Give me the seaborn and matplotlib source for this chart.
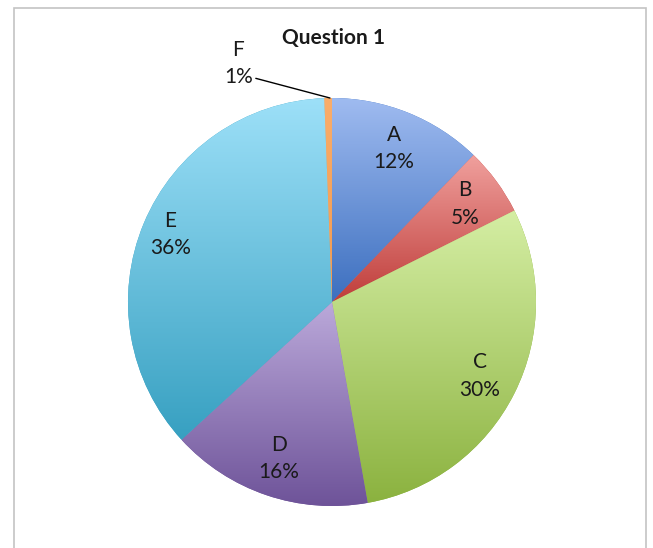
import numpy as np
import matplotlib
matplotlib.use("Agg")
import matplotlib.pyplot as plt
import matplotlib.patches as mpatches
from matplotlib.colors import LinearSegmentedColormap
import seaborn as sns

# data (labels show rounded percentages)
answers = ['A', 'B', 'C', 'D', 'E', 'F']
shares = [12.2, 5.4, 29.6, 16.0, 36.2, 0.6]
# (top colour, bottom colour) of each slice's gradient
top_cols = ['#9fbbf0', '#f0a09d', '#d5eea4', '#bba9da', '#9de0f8', '#f9ad6a']
bot_cols = ['#3c6fbf', '#bf3d3a', '#8bb23f', '#6e5399', '#37a0c1', '#f39a4f']

sns.set_theme(style="white")
plt.rcParams['font.family'] = ['Lato', 'DejaVu Sans']

fig = plt.figure(figsize=(6.53, 5.48), dpi=100)
fig.patch.set_facecolor('white')

# chart frame
fig.patches.append(mpatches.Rectangle((14/653, -0.02), 632/653, 1 - 8/548 + 0.02,
                                      transform=fig.transFigure, fill=False,
                                      edgecolor='#c4c4c4', lw=1.2))

cx, cy, r = 332/653, 1 - 302/548, 204
ax = fig.add_axes([cx - r/653, cy - r/548, 2*r/653, 2*r/548])

wedges, _ = ax.pie(shares, startangle=90, counterclock=False, radius=1,
                   colors=bot_cols, wedgeprops={'linewidth': 0})

for w, t, b in zip(wedges, top_cols, bot_cols):
    ext = w.get_path().get_extents()
    cmap = LinearSegmentedColormap.from_list('g', [b, t])
    grad = np.linspace(0, 1, 256).reshape(-1, 1)
    im = ax.imshow(grad, cmap=cmap, origin='lower', aspect='auto',
                   extent=[ext.x0, ext.x1, ext.y0, ext.y1], zorder=w.get_zorder() + 0.1)
    im.set_clip_path(w)

for w, name, s in zip(wedges, answers, shares):
    txt = f"{name}\n{s:.0f}%"
    if s < 2:
        ax.annotate(txt, xy=(-0.01, 1.0), xytext=(-0.46, 1.17), ha='center', va='center',
                    fontsize=15, color='#1a1a1a', linespacing=1.45,
                    arrowprops=dict(arrowstyle='-', color='black', lw=1,
                                    shrinkA=0, shrinkB=0, relpos=(1.0, 0.2)),
                    annotation_clip=False)
        continue
    ang = np.deg2rad((w.theta1 + w.theta2) / 2)
    d = 0.86 if s > 35 else 0.81
    ax.text(d*np.cos(ang), d*np.sin(ang), txt, ha='center', va='center',
            fontsize=15, color='#1a1a1a', linespacing=1.45, zorder=10)

ax.set_xlim(-1, 1)
ax.set_ylim(-1, 1)
ax.set_aspect('auto')
ax.axis('off')

fig.text(333/653, 1 - 38/548, 'Question 1', ha='center', va='center',
         fontsize=15, fontweight='bold', color='#1a1a1a')

fig.savefig('out.png', dpi=100, facecolor='white')
